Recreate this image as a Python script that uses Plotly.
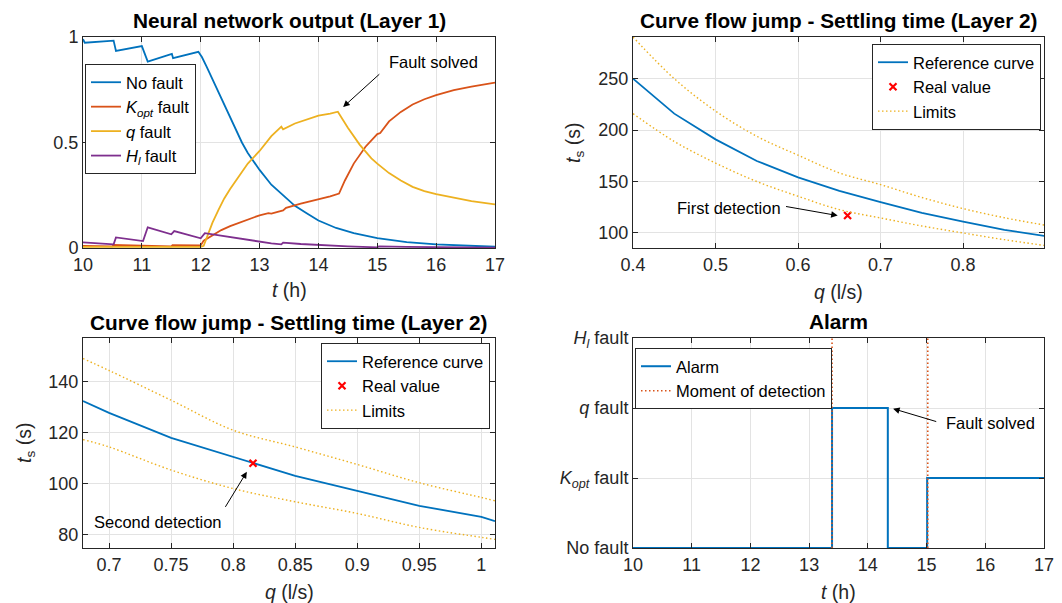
import plotly.graph_objects as go

FONT = "Liberation Sans"
TXT = "#262626"
C_BLUE = "#0072BD"
C_ORANGE = "#D95319"
C_YELLOW = "#EDB120"
C_PURPLE = "#7E2F8E"

# ---------------- Panel 1: neural network output ----------------
t_nofault = [10.0, 10.03, 10.52, 10.56, 11.0, 11.1, 11.51, 11.53, 11.96, 12.02, 12.1, 12.2, 12.3,
             12.4, 12.5, 12.6, 12.7, 12.8, 13.0, 13.2, 13.4, 13.6, 13.8, 14.0, 14.3, 14.6, 15.0,
             15.5, 16.0, 16.5, 17.0]
v_nofault = [0.99, 0.973, 0.983, 0.934, 0.957, 0.883, 0.92, 0.9, 0.93, 0.905, 0.86, 0.8, 0.74,
             0.68, 0.62, 0.56, 0.5, 0.45, 0.37, 0.3, 0.25, 0.2, 0.165, 0.13, 0.095, 0.07, 0.047,
             0.028, 0.017, 0.01, 0.006]

t_kopt = [10.0, 10.5, 10.52, 11.0, 11.5, 11.52, 12.0, 12.05, 12.2, 12.35, 12.5, 12.75, 13.0, 13.15,
          13.2, 13.4, 13.45, 13.7, 14.0, 14.2, 14.35, 14.45, 14.6, 14.8, 15.0, 15.05, 15.2, 15.4,
          15.6, 15.8, 16.0, 16.3, 16.6, 17.0]
v_kopt = [0.01, 0.008, 0.015, 0.01, 0.008, 0.013, 0.012, 0.035, 0.06, 0.085, 0.104, 0.13, 0.155,
          0.165, 0.163, 0.178, 0.19, 0.21, 0.23, 0.245, 0.258, 0.32, 0.4, 0.48, 0.54, 0.545, 0.6,
          0.645, 0.68, 0.705, 0.725, 0.748, 0.765, 0.784]

t_qfault = [10.0, 12.0, 12.05, 12.1, 12.2, 12.3, 12.4, 12.5, 12.6, 12.7, 12.8, 13.0, 13.2, 13.37,
            13.4, 13.6, 13.8, 14.0, 14.2, 14.33, 14.5, 14.7, 14.9, 15.0, 15.2, 15.4, 15.6, 15.8,
            16.0, 16.3, 16.6, 17.0]
v_qfault = [0.005, 0.005, 0.01, 0.05, 0.12, 0.18, 0.235, 0.28, 0.32, 0.36, 0.40, 0.46, 0.53, 0.575,
            0.562, 0.59, 0.61, 0.627, 0.637, 0.646, 0.57, 0.49, 0.425, 0.40, 0.355, 0.32, 0.29,
            0.27, 0.255, 0.24, 0.222, 0.207]

t_hl = [10.0, 10.52, 10.56, 11.02, 11.1, 11.5, 11.55, 12.0, 12.07, 12.3, 12.55, 12.8, 13.0, 13.2,
        13.37, 13.4, 13.7, 14.0, 14.5, 15.0, 15.03, 15.5, 16.0, 17.0]
v_hl = [0.027, 0.017, 0.05, 0.033, 0.098, 0.065, 0.08, 0.046, 0.07, 0.06, 0.048, 0.036, 0.028,
        0.022, 0.017, 0.025, 0.019, 0.014, 0.008, 0.003, 0.008, 0.005, 0.003, 0.002]

# ---------------- Panel 2: settling time, first detection ----------------
q_ref1 = [0.4, 0.45, 0.5, 0.55, 0.6, 0.65, 0.7, 0.75, 0.8, 0.85, 0.9]
ts_ref1 = [250, 216, 191, 170, 154, 141, 130, 119.5, 111, 103, 97]
q_lim1 = [0.4, 0.45, 0.5, 0.55, 0.6, 0.65, 0.7, 0.75, 0.8, 0.85, 0.9]
ts_up1 = [290.5, 250, 218.5, 194, 175.6, 158.4, 147, 134.5, 123.7, 114.8, 107.5]
ts_lo1 = [216, 189, 168, 150, 135.7, 122.7, 114.6, 106.8, 100, 93.5, 87.7]
q_real1 = [0.66]
ts_real1 = [117]

# ---------------- Panel 3: settling time, second detection ----------------
q_ref2 = [0.679, 0.7, 0.75, 0.8, 0.85, 0.9, 0.95, 1.0, 1.011]
ts_ref2 = [132.5, 127.8, 118, 110.5, 103, 97.1, 91.2, 86.9, 85.2]
q_lim2 = [0.679, 0.7, 0.75, 0.8, 0.85, 0.9, 0.95, 1.0, 1.011]
ts_up2 = [149.2, 144.5, 132.8, 121, 114.4, 107.5, 100.3, 94.5, 93.2]
ts_lo2 = [117.3, 114.4, 105.3, 98, 92.8, 88.2, 82.7, 78.8, 78]
q_real2 = [0.816]
ts_real2 = [108]

# ---------------- Panel 4: alarm ----------------
alarm_t = [10.0, 13.39, 14.34, 15.01, 17.0]
alarm_state = [0, 2, 0, 1, 1]
detection_t = [13.39, 15.02]
state_labels = ["No fault", "<i>K</i><sub><i>opt</i></sub> fault", "<i>q</i> fault",
                "<i>H</i><sub><i>l</i></sub> fault"]

# tick labels
ticks_q1 = [0.4, 0.5, 0.6, 0.7, 0.8]
ticks_q2 = [0.7, 0.75, 0.8, 0.85, 0.9, 0.95, 1.0]
ticks_q2_text = ["0.7", "0.75", "0.8", "0.85", "0.9", "0.95", "1"]

fig = go.Figure()

DOT = "1.5px,2.5px"

# Panel 1
for t, v, c, name in [(t_nofault, v_nofault, C_BLUE, "No fault"),
                      (t_kopt, v_kopt, C_ORANGE, "<i>K</i><sub><i>opt</i></sub> fault"),
                      (t_qfault, v_qfault, C_YELLOW, "<i>q</i> fault"),
                      (t_hl, v_hl, C_PURPLE, "<i>H</i><sub><i>l</i></sub> fault")]:
    fig.add_trace(go.Scatter(x=t, y=v, mode="lines", name=name, line=dict(color=c, width=1.8),
                             xaxis="x", yaxis="y", legend="legend"))

# Panel 2
fig.add_trace(go.Scatter(x=q_ref1, y=ts_ref1, mode="lines", name="Reference curve",
                         line=dict(color=C_BLUE, width=1.8), xaxis="x2", yaxis="y2", legend="legend2"))
fig.add_trace(go.Scatter(x=q_real1, y=ts_real1, mode="markers", name="Real value",
                         marker=dict(symbol="x-thin", size=7, line=dict(color="#FF0000", width=2.2), color="#FF0000"),
                         xaxis="x2", yaxis="y2", legend="legend2"))
fig.add_trace(go.Scatter(x=q_lim1, y=ts_up1, mode="lines", name="Limits", line=dict(color=C_YELLOW, width=1.4, dash=DOT),
                         xaxis="x2", yaxis="y2", legend="legend2", line_shape="spline"))
fig.add_trace(go.Scatter(x=q_lim1, y=ts_lo1, mode="lines", name="Limits", showlegend=False,
                         line=dict(color=C_YELLOW, width=1.4, dash=DOT), xaxis="x2", yaxis="y2",
                         legend="legend2", line_shape="spline"))

# Panel 3
fig.add_trace(go.Scatter(x=q_ref2, y=ts_ref2, mode="lines", name="Reference curve",
                         line=dict(color=C_BLUE, width=1.8), xaxis="x3", yaxis="y3", legend="legend3"))
fig.add_trace(go.Scatter(x=q_real2, y=ts_real2, mode="markers", name="Real value",
                         marker=dict(symbol="x-thin", size=7, line=dict(color="#FF0000", width=2.2), color="#FF0000"),
                         xaxis="x3", yaxis="y3", legend="legend3"))
fig.add_trace(go.Scatter(x=q_lim2, y=ts_up2, mode="lines", name="Limits", line=dict(color=C_YELLOW, width=1.4, dash=DOT),
                         xaxis="x3", yaxis="y3", legend="legend3", line_shape="spline"))
fig.add_trace(go.Scatter(x=q_lim2, y=ts_lo2, mode="lines", name="Limits", showlegend=False,
                         line=dict(color=C_YELLOW, width=1.4, dash=DOT), xaxis="x3", yaxis="y3",
                         legend="legend3", line_shape="spline"))

# Panel 4
fig.add_trace(go.Scatter(x=alarm_t, y=alarm_state, mode="lines", name="Alarm", line_shape="hv",
                         line=dict(color=C_BLUE, width=2), xaxis="x4", yaxis="y4", legend="legend4"))
det_x, det_y = [], []
for d in detection_t:
    det_x += [d, d, None]
    det_y += [0, 3, None]
fig.add_trace(go.Scatter(x=det_x, y=det_y, mode="lines", name="Moment of detection",
                         line=dict(color=C_ORANGE, width=1.6, dash=DOT), xaxis="x4", yaxis="y4",
                         legend="legend4"))

W, H = 1062, 603
def fx(p):
    return p / W
def fy(p):
    return 1 - p / H

dom_xl = [fx(83), fx(495)]
dom_xr = [fx(633), fx(1044)]
dom_yt = [fy(248), fy(37)]
dom_yb = [fy(548), fy(338)]

axc = dict(showline=True, linecolor=TXT, linewidth=1, mirror="ticks", ticks="inside", ticklen=5,
           tickcolor=TXT, showgrid=True, gridcolor="#e3e3e3", gridwidth=1, zeroline=False,
           automargin=False, tickfont=dict(size=18, color=TXT, family=FONT))

fig.update_layout(
    template="none",
    width=W, height=H, margin=dict(l=0, r=0, t=0, b=0, pad=0, autoexpand=False),
    paper_bgcolor="white", plot_bgcolor="white",
    font=dict(family=FONT, color=TXT),
    xaxis=dict(domain=dom_xl, anchor="y", range=[10, 17], tickvals=[10, 11, 12, 13, 14, 15, 16, 17], **axc),
    yaxis=dict(domain=dom_yt, anchor="x", range=[0, 1], tickvals=[0, 0.5, 1], **axc),
    xaxis2=dict(domain=dom_xr, anchor="y2", range=[0.4, 0.898], tickvals=ticks_q1, **axc),
    yaxis2=dict(domain=dom_yt, anchor="x2", range=[85.4, 290.5], tickvals=[100, 150, 200, 250], **axc),
    xaxis3=dict(domain=dom_xl, anchor="y3", range=[0.679, 1.011], tickvals=ticks_q2, ticktext=ticks_q2_text, **axc),
    yaxis3=dict(domain=dom_yb, anchor="x3", range=[74.6, 157.3], tickvals=[80, 100, 120, 140], **axc),
    xaxis4=dict(domain=dom_xr, anchor="y4", range=[10, 17], tickvals=[10, 11, 12, 13, 14, 15, 16, 17], **axc),
    yaxis4=dict(domain=dom_yb, anchor="x4", range=[0, 3], tickvals=[0, 1, 2, 3], ticktext=state_labels, **axc),
)

leg = dict(bgcolor="white", bordercolor=TXT, borderwidth=1, font=dict(size=16.5, color="black", family=FONT),
           xanchor="left", yanchor="top", tracegroupgap=0)
fig.update_layout(
    legend=dict(x=fx(85), y=fy(64), **leg),
    legend2=dict(x=fx(872), y=fy(44), **leg),
    legend3=dict(x=fx(321), y=fy(343), **leg),
    legend4=dict(x=fx(635), y=fy(348), **leg),
)

ann = []
# titles
for xc, yc, txt in [(289, 21, "Neural network output (Layer 1)"),
                    (838.5, 21, "Curve flow jump - Settling time (Layer 2)"),
                    (289, 322, "Curve flow jump - Settling time (Layer 2)"),
                    (838.5, 321, "Alarm")]:
    ann.append(dict(x=fx(xc), y=fy(yc), xref="paper", yref="paper", text="<b>%s</b>" % txt,
                    showarrow=False, xanchor="center", yanchor="middle",
                    font=dict(size=20.8, color="black", family=FONT)))
# axis titles
for xc, yc, txt in [(289, 290, "<i>t</i> (h)"), (838.5, 292, "<i>q</i> (l/s)"),
                    (289, 592, "<i>q</i> (l/s)"), (838.5, 592, "<i>t</i> (h)")]:
    ann.append(dict(x=fx(xc), y=fy(yc), xref="paper", yref="paper", text=txt, showarrow=False,
                    xanchor="center", yanchor="middle", font=dict(size=19.5, color=TXT, family=FONT)))
for xc, yc in [(574, 143), (25, 443)]:
    ann.append(dict(x=fx(xc), y=fy(yc), xref="paper", yref="paper", text="<i>t</i><sub>s</sub> (s)",
                    showarrow=False, textangle=-90, xanchor="center", yanchor="middle",
                    font=dict(size=19.5, color=TXT, family=FONT)))

# arrows and notes
arr = dict(text="", showarrow=True, arrowhead=2, arrowsize=1.3, arrowwidth=1, arrowcolor="black", standoff=0,
           startstandoff=0)
ann.append(dict(x=14.42, y=0.668, ax=15.06, ay=0.83, xref="x", yref="y", axref="x", ayref="y", **arr))
ann.append(dict(x=15.16, y=0.88, xref="x", yref="y", text="Fault solved", showarrow=False, xanchor="left",
                yanchor="middle", font=dict(size=16.5, color="black", family=FONT)))
ann.append(dict(x=0.648, y=116.9, ax=0.5836, ay=126, xref="x2", yref="y2", axref="x2", ayref="y2", **arr))
ann.append(dict(x=0.5818, y=124.4, xref="x2", yref="y2", text="First detection", showarrow=False,
                xanchor="right", yanchor="middle", font=dict(size=16.5, color="black", family=FONT)))
ann.append(dict(x=0.811, y=104.6, ax=0.793, ay=90.2, xref="x3", yref="y3", axref="x3", ayref="y3", **arr))
ann.append(dict(x=0.7395, y=84.9, xref="x3", yref="y3", text="Second detection", showarrow=False,
                xanchor="center", yanchor="middle", font=dict(size=16.5, color="black", family=FONT)))
ann.append(dict(x=14.43, y=1.99, ax=15.19, ay=1.8, xref="x4", yref="y4", axref="x4", ayref="y4", **arr))
ann.append(dict(x=15.30, y=1.786, xref="x4", yref="y4", text="Fault solved", showarrow=False,
                xanchor="left", yanchor="middle", font=dict(size=16.5, color="black", family=FONT)))

fig.update_layout(annotations=ann)
fig.write_html("out.html")
